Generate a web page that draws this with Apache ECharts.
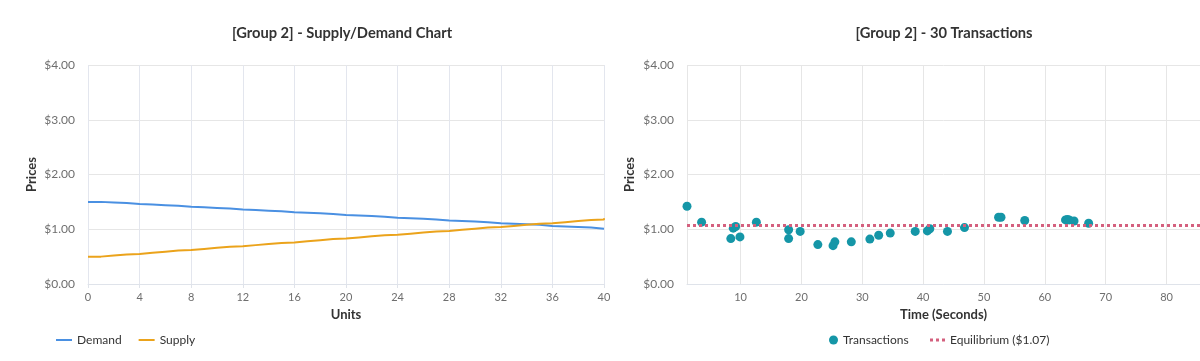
<!DOCTYPE html>
<html>
<head>
<meta charset="utf-8">
<script src="https://cdn.jsdelivr.net/npm/echarts@6/dist/echarts.min.js"></script>
<style>
html,body{margin:0;padding:0;background:#fff;}
#c{width:1200px;height:361px;}
</style>
</head>
<body>
<div id="c"></div>
<script>
// ---- Data ----
const units = [0,1,2,3,4,5,6,7,8,9,10,11,12,13,14,15,16,17,18,19,20,21,22,23,24,25,26,27,28,29,30,31,32,33,34,35,36,37,38,39,40];
const demand = [1.50,1.49,1.48,1.46,1.45,1.44,1.43,1.41,1.40,1.39,1.38,1.36,1.35,1.34,1.33,1.31,1.30,1.29,1.28,1.26,1.25,1.24,1.23,1.21,1.20,1.19,1.18,1.16,1.15,1.14,1.13,1.11,1.10,1.09,1.08,1.06,1.05,1.04,1.03,1.01,1.00];
const supply = [0.50,0.52,0.54,0.55,0.57,0.59,0.61,0.62,0.64,0.66,0.68,0.69,0.71,0.73,0.75,0.76,0.78,0.80,0.82,0.83,0.85,0.87,0.89,0.90,0.92,0.94,0.96,0.97,0.99,1.01,1.03,1.04,1.06,1.08,1.10,1.11,1.13,1.15,1.17,1.18,1.20];
const txTimes = [1.2,3.6,8.4,8.8,9.2,9.9,12.6,17.9,17.9,19.8,22.7,25.2,25.5,28.2,31.25,32.7,34.6,38.7,40.7,41.1,44.0,46.8,52.4,52.8,56.7,63.4,63.7,64.0,64.8,67.2];
const txPrices = [1.42,1.13,0.83,1.02,1.05,0.86,1.13,0.99,0.83,0.96,0.72,0.70,0.77,0.77,0.82,0.89,0.93,0.96,0.97,1.01,0.96,1.03,1.22,1.22,1.16,1.17,1.18,1.17,1.15,1.11];
const equilibrium = 1.07;
const timeMin = 1.2, timeMax = 85.5;

const FONT = 'Lato, "Open Sans", sans-serif';
const labelColor = '#6e6e6e';
const gridColor = '#e6e6e6';
const priceFmt = v => '$' + v.toFixed(2);

const chart = echarts.init(document.getElementById('c'), null, {renderer:'canvas'});

const yAxisBase = (gi, gap) => ({
  type:'value', gridIndex:gi, min:0, max:4, interval:1,
  name:'Prices', nameLocation:'middle', nameGap:gap,
  nameTextStyle:{fontFamily:FONT, fontWeight:'bold', fontSize:13, color:'#333'},
  axisLabel:{formatter:priceFmt, fontFamily:FONT, fontSize:12, color:labelColor, margin:13},
  axisLine:{show:false}, axisTick:{show:false},
  splitLine:{lineStyle:{color:gridColor}}
});
const legendText = {fontFamily:FONT, fontSize:12, color:'#333'};

chart.setOption({
  animation:false,
  textStyle:{fontFamily:FONT},
  title:[
    {text:'[Group 2] - Supply/Demand Chart', left:337, top:21, textAlign:'center',
     textStyle:{fontFamily:FONT, fontSize:14.7, fontWeight:'bold', color:'#333'}},
    {text:'[Group 2] - 30 Transactions', left:939, top:21, textAlign:'center',
     textStyle:{fontFamily:FONT, fontSize:14.7, fontWeight:'bold', color:'#333'}}
  ],
  legend:[
    {left:50, top:329, itemWidth:16, itemHeight:2, itemGap:16,
     textStyle:legendText, data:['Demand','Supply']},
    {left:824, top:329, itemWidth:9, itemHeight:9,
     textStyle:legendText, data:[{name:'Transactions', icon:'circle'}]},
    {left:925, top:329, itemWidth:15, itemHeight:3,
     textStyle:legendText,
     data:[{name:'Equilibrium ($1.07)', icon:'path://M0,0h3v3h-3z M6,0h3v3h-3z M12,0h3v3h-3z'}]}
  ],
  grid:[
    {left:88, top:65, width:516, height:219},
    {left:687, top:65, right:0, height:219}
  ],
  xAxis:[
    {type:'value', gridIndex:0, min:0, max:40, interval:4,
     name:'Units', nameLocation:'middle', nameGap:23,
     nameTextStyle:{fontFamily:FONT, fontWeight:'bold', fontSize:13, color:'#333'},
     axisLabel:{fontFamily:FONT, fontSize:11, color:labelColor, margin:8},
     axisLine:{show:true, lineStyle:{color:'#dfe3ea'}},
     axisTick:{show:true, length:4, lineStyle:{color:'#dfe3ea'}},
     splitLine:{show:true, lineStyle:{color:'#e3e6ee'}}},
    {type:'value', gridIndex:1, min:timeMin, max:timeMax, splitNumber:9,
     name:'Time (Seconds)', nameLocation:'middle', nameGap:23,
     nameTextStyle:{fontFamily:FONT, fontWeight:'bold', fontSize:13, color:'#333'},
     axisLabel:{fontFamily:FONT, fontSize:11, color:labelColor, margin:8, showMinLabel:false, showMaxLabel:false},
     axisLine:{show:true, lineStyle:{color:'#dfe3ea'}},
     axisTick:{show:false},
     splitLine:{show:true, lineStyle:{color:gridColor}}}
  ],
  yAxis:[ yAxisBase(0, 50), yAxisBase(1, 51) ],
  series:[
    {name:'Demand', type:'line', xAxisIndex:0, yAxisIndex:0, step:'end', symbol:'none',
     color:'#4a90e2', lineStyle:{width:2, color:'#4a90e2'},
     data: units.map((u,i)=>[u, demand[i]])},
    {name:'Supply', type:'line', xAxisIndex:0, yAxisIndex:0, step:'end', symbol:'none',
     color:'#eba31b', lineStyle:{width:2, color:'#eba31b'},
     data: units.map((u,i)=>[u, supply[i]])},
    {name:'Equilibrium ($1.07)', type:'line', xAxisIndex:1, yAxisIndex:1, symbol:'none',
     color:'#d4607e', itemStyle:{color:'#d4607e'}, lineStyle:{width:3, type:[3,3], color:'#d4607e'},
     data:[[timeMin, equilibrium],[timeMax, equilibrium]]},
    {name:'Transactions', type:'scatter', xAxisIndex:1, yAxisIndex:1, symbolSize:9,
     color:'#1596a7', itemStyle:{color:'#1596a7', opacity:1},
     data: txTimes.map((t,i)=>[t, txPrices[i]])}
  ]
});
</script>
</body>
</html>
